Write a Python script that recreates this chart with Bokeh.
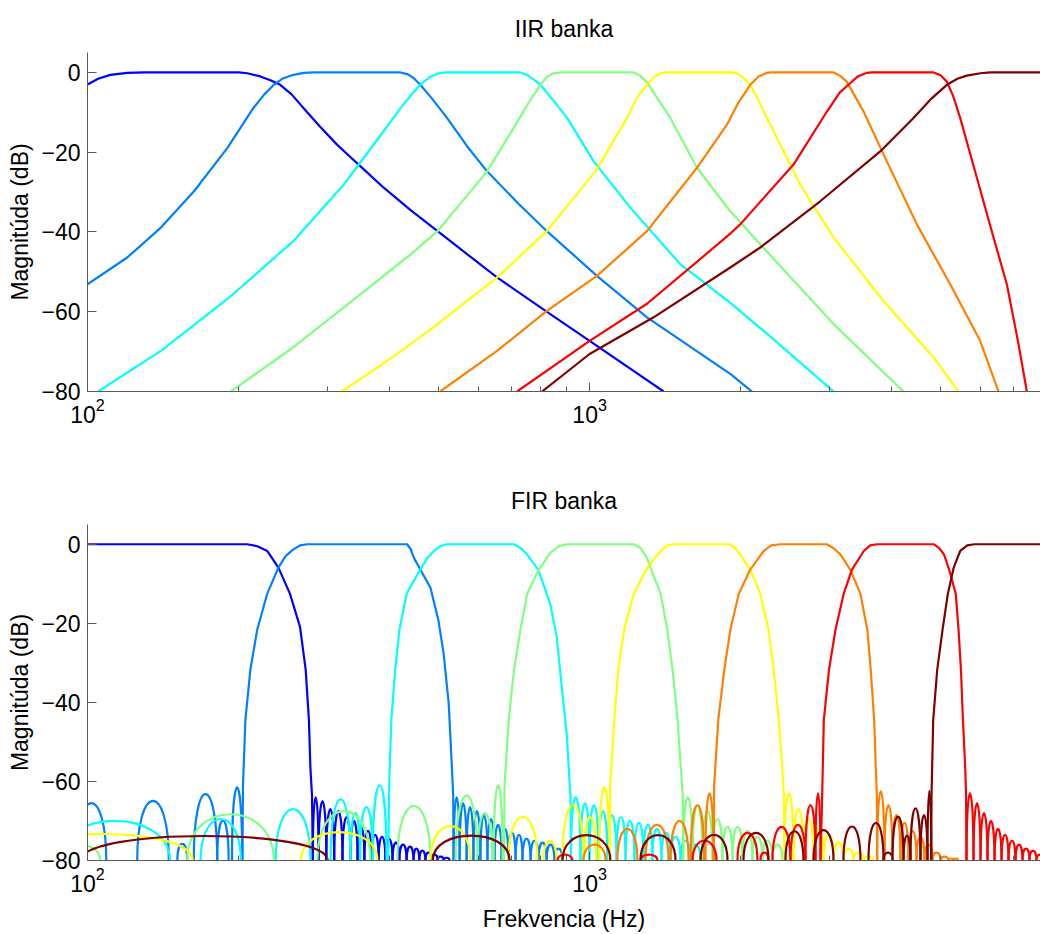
from bokeh.plotting import figure
from bokeh.layouts import column
from bokeh.models import FixedTicker, Range1d
from bokeh.embed import file_html
from bokeh.resources import INLINE

# MATLAB jet(8) colours, one per band
COLORS = ["#0000FF", "#0080FF", "#00FFFF", "#80FF80", "#FFFF00", "#FF8000", "#FF0000", "#800000"]

# ---------------- IIR bank: magnitude responses (Hz, dB) ----------------
IIR_F1 = [100, 105, 111, 120, 130, 200, 208, 221, 232, 242, 255, 273, 290, 314, 335, 355, 389, 440, 498, 654, 835, 1000, 1404]
IIR_D1 = [-3, -1.6, -0.6, -0.1, 0, 0, -0.2, -1, -2, -3.1, -5.5, -9.8, -13.5, -18.1, -21.4, -24.3, -28.9, -34.5, -39.8, -51.4, -60.6, -67.3, -80]
IIR_F2 = [100, 120, 140, 163, 190, 214, 225, 235, 245, 257, 270, 282, 420, 435, 446, 460, 485, 520, 570, 625, 720, 822, 1034, 1301, 1906, 2105]
IIR_D2 = [-53.1, -46.4, -38.9, -29.8, -18.9, -8.9, -5.5, -3.1, -1.5, -0.6, -0.1, 0, 0, -0.5, -1.4, -3.1, -6.5, -11.4, -18.5, -24.8, -32.8, -39.8, -51, -61.4, -75.6, -80]
IIR_F3 = [105, 140, 190, 257, 324, 377, 420, 440, 460, 480, 504, 520, 728, 750, 774, 798, 840, 902, 1019, 1205, 1516, 1640, 1906, 2255, 3061]
IIR_D3 = [-80, -69.8, -56.8, -42.3, -28.1, -17, -9, -5.8, -3.1, -1.2, -0.1, 0, 0, -0.6, -1.8, -3.1, -6.5, -11.4, -22.3, -33.9, -48.1, -51.4, -57.8, -65.5, -80]
IIR_F4 = [193, 257, 350, 440, 498, 625, 706, 740, 774, 798, 820, 848, 880, 1224, 1260, 1301, 1340, 1448, 1636, 1906, 2187, 3061, 4217]
IIR_D4 = [-80, -68.9, -55.6, -45.6, -39.8, -24.8, -13.9, -9.5, -5.6, -3.1, -1.2, -0.2, 0, 0, -0.8, -2.5, -5, -11.4, -23.9, -34.8, -43.1, -63.1, -80]
IIR_F5 = [321, 383, 440, 498, 654, 822, 1034, 1187, 1240, 1301, 1340, 1383, 1420, 1935, 1990, 2026, 2089, 2160, 2255, 2627, 3061, 3848, 4841, 5428]
IIR_D5 = [-80, -73.5, -68.1, -63.1, -51.4, -39.8, -24.3, -11.4, -6.5, -3.1, -1.3, -0.2, 0, 0, -0.6, -1.4, -3.1, -6.5, -11.4, -28.1, -41.4, -57.3, -71.4, -80]
IIR_F6 = [504, 654, 822, 1034, 1301, 1636, 1877, 1980, 2089, 2170, 2255, 2300, 3061, 3150, 3253, 3512, 3908, 4485, 5225, 5995, 6521]
IIR_D6 = [-80, -69.8, -59.8, -51, -39.8, -23.9, -13.1, -7.5, -3.1, -1, -0.1, 0, 0, -0.8, -2.3, -9.8, -22.3, -38.1, -53.1, -67.3, -80]
IIR_F7 = [717, 1000, 1301, 1587, 1906, 1995, 2547, 2969, 3150, 3304, 3420, 3566, 3650, 4841, 5000, 5147, 5300, 5470, 5905, 6374, 6776, 7147, 7426]
IIR_D7 = [-80, -67.3, -58, -48.9, -40.4, -38.1, -23.1, -9.8, -5, -2.7, -1, -0.1, 0, 0, -0.7, -2.3, -6, -11.4, -26.4, -41.4, -53.1, -68.1, -80]
IIR_F8 = [804, 1000, 1341, 1906, 2187, 2879, 3791, 4416, 4800, 5147, 5400, 5639, 6000, 6278, 8000]
IIR_D8 = [-80, -70.6, -61.4, -48.9, -43.9, -32.3, -19.8, -11.4, -6.5, -3.1, -1.6, -0.8, -0.2, 0, 0]

# ---------------- FIR bank: main lobes (Hz, dB) ----------------
FIR_F1 = [100, 208, 218, 228, 240, 253, 265, 272, 276, 278, 280, 281]
FIR_D1 = [0, 0, -0.5, -1.7, -5.9, -12.5, -20.9, -31.8, -44.4, -56.9, -63.6, -80]
FIR_F2 = [203.5, 204, 206.3, 211, 217.7, 228, 240, 248, 257, 265, 274, 433, 440, 447, 460, 482, 500, 512, 524, 530, 535, 536]
FIR_D2 = [-80, -61, -44.4, -31.8, -21.7, -12.5, -5.9, -3, -1.3, -0.3, 0, 0, -1.2, -3.5, -6.4, -11, -19.3, -27.7, -40.2, -52.7, -63.6, -80]
FIR_F3 = [397, 399, 403, 410, 418, 432, 460, 475, 490, 505, 520, 707, 730, 751, 790, 835, 860, 880, 901, 912, 916, 918]
FIR_D3 = [-80, -60, -44, -31.8, -21.7, -12.5, -6.4, -3.5, -1.7, -0.4, 0, 0, -1, -2.6, -6.4, -15.1, -23.5, -36, -48.5, -60, -63.6, -80]
FIR_F4 = [675, 677, 690, 707, 728, 751, 792, 836, 870, 902, 1225, 1265, 1302, 1322, 1385, 1428, 1463, 1497, 1520, 1533, 1536]
FIR_D4 = [-80, -61, -44.4, -31.8, -21.7, -12.5, -6.4, -2.1, -0.4, 0, 0, -1, -3.5, -5.9, -12.5, -21.7, -31.8, -44.4, -56.9, -63.6, -80]
FIR_F5 = [1097, 1099, 1120, 1140, 1171, 1225, 1303, 1385, 1430, 1474, 1906, 1950, 1995, 2089, 2187, 2273, 2326, 2381, 2420, 2438, 2442]
FIR_D5 = [-80, -61, -44.4, -31.8, -21.7, -12.5, -5.9, -1.7, -0.3, 0, 0, -1, -2.6, -6.4, -12.5, -21.7, -31.8, -44.4, -56.9, -63.6, -80]
FIR_F6 = [1767, 1770, 1804, 1854, 1906, 1982, 2089, 2223, 2300, 2402, 2967, 3060, 3160, 3304, 3462, 3574, 3630, 3687, 3716, 3733, 3738]
FIR_D6 = [-80, -61, -44.4, -31.8, -21.7, -12.5, -6.4, -1.7, -0.3, 0, 0, -1, -2.6, -6.4, -12.5, -21.7, -31.8, -44.4, -56.9, -63.6, -80]
FIR_F7 = [2883, 2905, 2927, 2997, 3087, 3207, 3330, 3516, 3620, 3738, 4850, 4970, 5080, 5200, 5360, 5430, 5490, 5540, 5600, 5620, 5631]
FIR_D7 = [-80, -63.6, -44.4, -31.8, -21.7, -12.5, -6.4, -1.7, -0.3, 0, 0, -1, -2.6, -6.4, -12.5, -21.7, -31.8, -44.4, -56.9, -63.6, -80]
FIR_F8 = [4790, 4796, 4834, 4923, 5044, 5170, 5310, 5470, 5650, 5840, 8000]
FIR_D8 = [-80, -63.6, -44.4, -31.8, -21.7, -12.5, -5.9, -1.7, -0.3, 0, 0]

# ---------------- FIR bank: isolated side lobes (left null Hz, right null Hz, peak dB) ----------------
LOBE_LO2 = [95, 125.6, 151, 162.8, 181.3, 194]
LOBE_HI2 = [109, 145.2, 158, 181.3, 191, 203.3]
LOBE_DB2 = [-65.5, -64.9, -75.8, -63.2, -69.9, -61.5]
LOBE_LO3 = [88, 168, 237, 305, 334, 349, 370]
LOBE_HI3 = [146, 202, 278, 334, 349, 370, 394]
LOBE_DB3 = [-70, -69.5, -67, -64.5, -68, -66.5, -61]
LOBE_LO4 = [88, 158, 287, 414, 541, 598, 644]
LOBE_HI4 = [106, 235, 366, 482, 598, 640, 671]
LOBE_DB4 = [-76, -68.3, -67.5, -66.2, -63.6, -68, -61]
LOBE_LO5 = [72, 266, 482, 689, 809, 883, 975, 1045]
LOBE_HI5 = [162, 378, 579, 787, 859, 972, 1030, 1095]
LOBE_DB5 = [-73.3, -72.8, -71.3, -69, -75, -66, -69, -61.5]
LOBE_LO6 = [972, 1136, 1292, 1449, 1590, 1701]
LOBE_HI6 = [1076, 1245, 1436, 1574, 1690, 1765]
LOBE_DB6 = [-76, -72, -71, -70, -66, -63]
LOBE_LO7 = [863, 1263, 1603, 1970, 2189, 2313, 2512, 2691, 2817]
LOBE_HI7 = [924, 1365, 1789, 2159, 2271, 2512, 2691, 2817, 2883]
LOBE_DB7 = [-78.5, -78.5, -75, -73, -78, -71.5, -71, -66, -63]
LOBE_LO8 = [97, 487, 883, 1263, 1663, 2025, 2455, 2792, 3203, 3593, 3848, 4010, 4218, 4356, 4560, 4709]
LOBE_HI8 = [301, 693, 1100, 1483, 1882, 2271, 2666, 3060, 3463, 3848, 4010, 4218, 4356, 4560, 4709, 4790]
LOBE_DB8 = [-73.8, -73.7, -73.6, -73.6, -73.5, -73, -72.6, -72.3, -71.4, -70.5, -78, -68.9, -73.7, -66.8, -68.5, -62.4]

# ---------------- FIR bank: side-lobe trains above each band (null Hz, peak dB) ----------------
TRAIN_N1 = [281, 288.5, 299, 310, 322, 334, 345, 356, 368, 380, 392, 405, 418, 432, 446, 458, 471, 484, 498, 512, 526]
TRAIN_P1 = [-64, -65, -67, -67.5, -69, -70, -71.5, -72.5, -73.5, -74, -74.5, -75.5, -76, -76.5, -77, -77.5, -78, -78.5, -79, -79.3]
TRAIN_N2 = [536, 551, 569, 587, 606, 626, 646.5, 668, 689, 712, 735, 763, 791, 821, 851, 883]
TRAIN_P2 = [-64, -65.5, -66.5, -67.5, -68.5, -69.5, -71, -72, -73, -73.5, -74.5, -75, -75.5, -76, -77]
TRAIN_N3 = [918, 959, 999, 1042, 1085, 1131, 1179, 1228, 1280, 1334, 1390, 1449, 1517, 1588, 1663]
TRAIN_P3 = [-64, -65.5, -66, -67.5, -68.5, -69, -70, -70.5, -71, -72, -73, -74, -75, -76]
TRAIN_N4 = [1536, 1603, 1678, 1757, 1839, 1926, 2016, 2110, 2209, 2313, 2422]
TRAIN_P4 = [-64, -66, -67.5, -69.5, -71.5, -71.5, -72.5, -74, -75, -76]
TRAIN_N5 = [2442, 2547, 2667, 2792, 2923, 3060, 3203, 3354, 3511, 3676]
TRAIN_P5 = [-63, -67, -69.5, -72, -73.5, -75.5, -77, -78, -79]
TRAIN_N6 = [3738, 3866, 4010, 4161, 4316, 4477, 4644, 4818, 4998, 5185, 5300, 5420]
TRAIN_P6 = [-62.5, -66, -68.5, -70.5, -72.5, -74, -76, -78, -79, -79.5, -79.5]
TRAIN_N7 = [5631, 5815, 6005, 6200, 6403, 6612, 6827, 7050, 7280, 7517, 7762, 8016]
TRAIN_P7 = [-63, -65.5, -68, -70, -72, -73.5, -75, -76, -77, -77.5, -78.5]

# ---------------- axes ----------------
X_MIN, X_MAX = 100, 7906
Y_MIN, Y_MAX = -80, 5
Y_TICKS = [-80, -60, -40, -20, 0]
X_MAJOR = [100, 1000]
X_MINOR = [200, 300, 400, 500, 600, 700, 800, 900, 2000, 3000, 4000, 5000, 6000, 7000]

FONT = "Liberation Sans"
FS = "23px"
AX_COL = "#5a5a5a"


def make_fig(title, height, top, bottom, xlabel=None):
    p = figure(width=1040, height=height, x_axis_type="log",
               x_range=Range1d(X_MIN, X_MAX), y_range=Range1d(Y_MIN, Y_MAX),
               output_backend="svg", toolbar_location=None,
               min_border_left=87, min_border_right=0,
               min_border_top=top, min_border_bottom=bottom)
    p.outline_line_color = None
    p.grid.visible = False
    p.background_fill_color = "white"
    p.border_fill_color = "white"
    p.title.text = title
    p.title.align = "center"
    p.title.text_font = FONT
    p.title.text_font_size = FS
    p.title.text_font_style = "normal"
    p.title.text_color = "#000000"
    p.title.standoff = 22

    xa = p.xaxis[0]
    xa.ticker = FixedTicker(ticks=X_MAJOR, minor_ticks=X_MINOR)
    ya = p.yaxis[0]
    ya.ticker = FixedTicker(ticks=Y_TICKS)
    for ax in (xa, ya):
        ax.axis_line_color = AX_COL
        ax.major_tick_line_color = AX_COL
        ax.minor_tick_line_color = AX_COL
        ax.major_tick_in = 9
        ax.major_tick_out = 0
        ax.minor_tick_in = 5
        ax.minor_tick_out = 0
        ax.major_label_text_font = FONT
        ax.major_label_text_font_size = FS
        ax.major_label_text_color = "#000000"
        ax.axis_label_text_font = FONT
        ax.axis_label_text_font_size = FS
        ax.axis_label_text_font_style = "normal"
        ax.axis_label_text_color = "#000000"
    ya.major_label_standoff = 7
    ya.axis_label = "Magnitúda (dB)"
    ya.axis_label_standoff = 5
    xa.major_label_standoff = 6
    if xlabel:
        xa.axis_label = xlabel
        xa.axis_label_standoff = 11
    return p


# ---------------- top: IIR ----------------
p1 = make_fig("IIR banka", 470, 52, 79)
iir_f = [IIR_F1, IIR_F2, IIR_F3, IIR_F4, IIR_F5, IIR_F6, IIR_F7, IIR_F8]
iir_d = [IIR_D1, IIR_D2, IIR_D3, IIR_D4, IIR_D5, IIR_D6, IIR_D7, IIR_D8]
for f, d, c in zip(iir_f, iir_d, COLORS):
    p1.line(f, d, line_color=c, line_width=2.2, line_join="round")

# ---------------- bottom: FIR ----------------
p2 = make_fig("FIR banka", 464, 54, 72, xlabel="Frekvencia (Hz)")

fir_f = [FIR_F1, FIR_F2, FIR_F3, FIR_F4, FIR_F5, FIR_F6, FIR_F7, FIR_F8]
fir_d = [FIR_D1, FIR_D2, FIR_D3, FIR_D4, FIR_D5, FIR_D6, FIR_D7, FIR_D8]
lobe_lo = [[], LOBE_LO2, LOBE_LO3, LOBE_LO4, LOBE_LO5, LOBE_LO6, LOBE_LO7, LOBE_LO8]
lobe_hi = [[], LOBE_HI2, LOBE_HI3, LOBE_HI4, LOBE_HI5, LOBE_HI6, LOBE_HI7, LOBE_HI8]
lobe_db = [[], LOBE_DB2, LOBE_DB3, LOBE_DB4, LOBE_DB5, LOBE_DB6, LOBE_DB7, LOBE_DB8]
train_n = [TRAIN_N1, TRAIN_N2, TRAIN_N3, TRAIN_N4, TRAIN_N5, TRAIN_N6, TRAIN_N7, []]
train_p = [TRAIN_P1, TRAIN_P2, TRAIN_P3, TRAIN_P4, TRAIN_P5, TRAIN_P6, TRAIN_P7, []]

BASE = Y_MIN
for k in range(8):
    c = COLORS[k]
    lo = list(lobe_lo[k]) + list(train_n[k][:-1])
    hi = list(lobe_hi[k]) + list(train_n[k][1:])
    pk = list(lobe_db[k]) + list(train_p[k])
    if lo:
        # arch through the two nulls whose top reaches the read peak level
        ctrl = [(v - 0.25 * BASE) / 0.75 for v in pk]
        p2.bezier(x0=lo, y0=[BASE] * len(lo), x1=hi, y1=[BASE] * len(hi),
                  cx0=lo, cy0=ctrl, cx1=hi, cy1=ctrl,
                  line_color=c, line_width=2.2)
    p2.line(fir_f[k], fir_d[k], line_color=c, line_width=2.2, line_join="round")

layout = column(p1, p2, spacing=0)
open("out.html", "w").write(file_html(layout, INLINE))
